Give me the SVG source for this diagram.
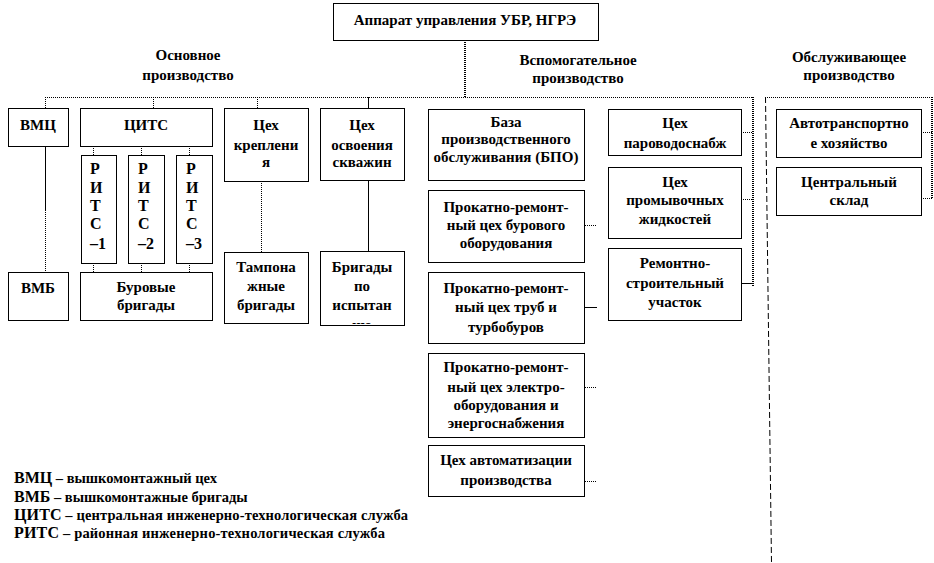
<svg xmlns="http://www.w3.org/2000/svg" width="934" height="563" viewBox="0 0 934 563">
<style>
.b{fill:#fff;stroke:#000;stroke-width:1}
.t{font-family:"Liberation Serif","DejaVu Serif",serif;font-weight:bold;font-size:15px;text-anchor:middle;fill:#000}
.l{font-family:"Liberation Serif","DejaVu Serif",serif;font-weight:bold;font-size:14.5px;fill:#000}
.a{font-size:16px}
.s{font-family:"Liberation Serif","DejaVu Serif",serif;font-weight:bold;font-size:16px;fill:#000}
.dot{stroke:#000;stroke-width:1;stroke-dasharray:1 1;fill:none}
.dotw{stroke:#000;stroke-width:2;stroke-dasharray:1 1;fill:none}
.sol{stroke:#000;stroke-width:1;fill:none}
.dash{stroke:#000;stroke-width:1;stroke-dasharray:6 3;fill:none}
</style>
<defs>
<clipPath id="clipBr"><rect x="320" y="251" width="84" height="73"/></clipPath>
</defs>
<rect width="934" height="563" fill="#fff"/>

<g id="connectors">
<line class="dotw" x1="465" y1="40" x2="465" y2="97"/>
<line class="dot" x1="45" y1="97.5" x2="753" y2="97.5"/>
<line class="dot" x1="765" y1="97.5" x2="932" y2="97.5"/>
<line class="dot" x1="45.5" y1="97" x2="45.5" y2="108"/>
<line class="dot" x1="153.5" y1="97" x2="153.5" y2="108"/>
<line class="dot" x1="257.5" y1="97" x2="257.5" y2="108"/>
<line class="sol" x1="368.5" y1="97" x2="368.5" y2="108"/>
<line class="sol" x1="45.5" y1="146" x2="45.5" y2="210"/>
<line class="dot" x1="45.5" y1="210" x2="45.5" y2="272"/>
<line class="dot" x1="93.5" y1="146" x2="93.5" y2="155"/>
<line class="dot" x1="141.5" y1="146" x2="141.5" y2="155"/>
<line class="dot" x1="189.5" y1="146" x2="189.5" y2="155"/>
<line class="dot" x1="93.5" y1="263" x2="93.5" y2="272"/>
<line class="dot" x1="141.5" y1="263" x2="141.5" y2="272"/>
<line class="dot" x1="189.5" y1="263" x2="189.5" y2="272"/>
<line class="dot" x1="261.5" y1="181" x2="261.5" y2="252"/>
<line class="sol" x1="368.5" y1="180" x2="368.5" y2="251"/>
<line class="dot" x1="585" y1="225.5" x2="597" y2="225.5"/>
<line class="sol" x1="585" y1="307.5" x2="597" y2="307.5"/>
<line class="dot" x1="585" y1="387.5" x2="597" y2="387.5"/>
<line class="dot" x1="585" y1="481.5" x2="597" y2="481.5"/>
<line class="dotw" x1="753" y1="97" x2="753" y2="287"/>
<line class="dot" x1="741" y1="132.5" x2="753" y2="132.5"/>
<line class="dot" x1="741" y1="199.5" x2="753" y2="199.5"/>
<line class="sol" x1="741" y1="283.5" x2="753" y2="283.5"/>
<line class="dash" x1="765.5" y1="97" x2="771.5" y2="563"/>
<line class="dotw" x1="932" y1="97" x2="932" y2="199"/>
<line class="dot" x1="921" y1="132.5" x2="932" y2="132.5"/>
<line class="dot" x1="921" y1="198.5" x2="932" y2="198.5"/>
</g>

<g id="sections">
<text class="t" x="188" y="60">Основное</text>
<text class="t" x="188" y="80">производство</text>
<text class="t" x="578" y="65">Вспомогательное</text>
<text class="t" x="578" y="83">производство</text>
<text class="t" x="849" y="62">Обслуживающее</text>
<text class="t" x="849" y="80">производство</text>
</g>

<g id="n-top"><rect class="b" x="333.5" y="3.5" width="265" height="37"/><text class="t" x="465" y="25">Аппарат управления УБР, НГРЭ</text></g>

<g id="n-vmc"><rect class="b" x="8.5" y="108.5" width="60" height="38"/><text class="t" x="38" y="130">ВМЦ</text></g>
<g id="n-cits"><rect class="b" x="80.5" y="108.5" width="132" height="38"/><text class="t" x="146" y="130">ЦИТС</text></g>
<g id="n-krep"><rect class="b" x="224.5" y="108.5" width="84" height="73"/><text class="t" x="266" y="130">Цех</text><text class="t" x="266" y="150">креплени</text><text class="t" x="266" y="167">я</text></g>
<g id="n-osv"><rect class="b" x="320.5" y="108.5" width="84" height="72"/><text class="t" x="362" y="130">Цех</text><text class="t" x="362" y="150">освоения</text><text class="t" x="362" y="167">скважин</text></g>

<g id="n-rits1"><rect class="b" x="81.5" y="155.5" width="35" height="108"/><text class="s" x="90" y="174">Р</text><text class="s" x="90" y="193">И</text><text class="s" x="90" y="211">Т</text><text class="s" x="90" y="229">С</text><text class="s" x="90" y="249">–1</text></g>
<g id="n-rits2"><rect class="b" x="128.5" y="155.5" width="36" height="108"/><text class="s" x="138" y="174">Р</text><text class="s" x="138" y="193">И</text><text class="s" x="138" y="211">Т</text><text class="s" x="138" y="229">С</text><text class="s" x="138" y="249">–2</text></g>
<g id="n-rits3"><rect class="b" x="176.5" y="155.5" width="36" height="108"/><text class="s" x="186" y="174">Р</text><text class="s" x="186" y="193">И</text><text class="s" x="186" y="211">Т</text><text class="s" x="186" y="229">С</text><text class="s" x="186" y="249">–3</text></g>

<g id="n-vmb"><rect class="b" x="8.5" y="272.5" width="60" height="48"/><text class="t" x="38" y="293">ВМБ</text></g>
<g id="n-bur"><rect class="b" x="80.5" y="272.5" width="132" height="48"/><text class="t" x="146" y="292">Буровые</text><text class="t" x="146" y="310">бригады</text></g>
<g id="n-tamp"><rect class="b" x="224.5" y="252.5" width="84" height="71"/><text class="t" x="266" y="272">Тампона</text><text class="t" x="266" y="291">жные</text><text class="t" x="266" y="310">бригады</text></g>
<g id="n-isp"><rect class="b" x="320.5" y="251.5" width="84" height="74"/><text class="t" x="362" y="272">Бригады</text><text class="t" x="362" y="291">по</text><text class="t" x="362" y="310">испытан</text><text class="t" x="362" y="330" clip-path="url(#clipBr)">ию</text></g>

<g id="n-bpo"><rect class="b" x="428.5" y="109.5" width="156" height="71"/><text class="t" x="506" y="127">База</text><text class="t" x="506" y="144">производственного</text><text class="t" x="506" y="162">обслуживания (БПО)</text></g>
<g id="n-prc1"><rect class="b" x="428.5" y="190.5" width="156" height="72"/><text class="t" x="506" y="212">Прокатно-ремонт-</text><text class="t" x="506" y="230">ный цех бурового</text><text class="t" x="506" y="248">оборудования</text></g>
<g id="n-prc2"><rect class="b" x="428.5" y="272.5" width="156" height="71"/><text class="t" x="506" y="293">Прокатно-ремонт-</text><text class="t" x="506" y="312">ный цех труб и</text><text class="t" x="506" y="332">турбобуров</text></g>
<g id="n-prc3"><rect class="b" x="428.5" y="353.5" width="156" height="84"/><text class="t" x="506" y="372">Прокатно-ремонт-</text><text class="t" x="506" y="392">ный цех электро-</text><text class="t" x="506" y="410">оборудования и</text><text class="t" x="506" y="428">энергоснабжения</text></g>
<g id="n-avt"><rect class="b" x="428.5" y="445.5" width="156" height="51"/><text class="t" x="506" y="465">Цех автоматизации</text><text class="t" x="506" y="485">производства</text></g>

<g id="n-par"><rect class="b" x="608.5" y="109.5" width="133" height="46"/><text class="t" x="675" y="128">Цех</text><text class="t" x="675" y="148">пароводоснабж</text></g>
<g id="n-prom"><rect class="b" x="608.5" y="167.5" width="133" height="71"/><text class="t" x="675" y="187">Цех</text><text class="t" x="675" y="205">промывочных</text><text class="t" x="675" y="224">жидкостей</text></g>
<g id="n-rsu"><rect class="b" x="608.5" y="248.5" width="133" height="72"/><text class="t" x="675" y="268">Ремонтно-</text><text class="t" x="675" y="288">строительный</text><text class="t" x="675" y="307">участок</text></g>

<g id="n-auto"><rect class="b" x="776.5" y="109.5" width="145" height="48"/><text class="t" x="849" y="128">Автотранспортно</text><text class="t" x="849" y="148">е хозяйство</text></g>
<g id="n-sklad"><rect class="b" x="776.5" y="167.5" width="145" height="48"/><text class="t" x="849" y="187">Центральный</text><text class="t" x="849" y="205">склад</text></g>

<g id="legend">
<text class="l" x="14" y="483"><tspan class="a">ВМЦ</tspan> – вышкомонтажный цех</text>
<text class="l" x="14" y="502"><tspan class="a">ВМБ</tspan> – вышкомонтажные бригады</text>
<text class="l" x="14" y="520" textLength="394" lengthAdjust="spacing"><tspan class="a">ЦИТС</tspan> – центральная инженерно-технологическая служба</text>
<text class="l" x="14" y="538" textLength="371" lengthAdjust="spacing"><tspan class="a">РИТС</tspan> – районная инженерно-технологическая служба</text>
</g>
</svg>
